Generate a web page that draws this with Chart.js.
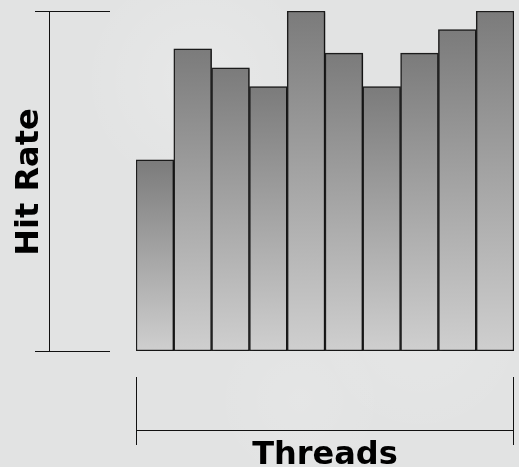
<!DOCTYPE html>
<html>
<head>
<meta charset="utf-8">
<script src="https://cdn.jsdelivr.net/npm/chart.js@4.4.0/dist/chart.umd.min.js"></script>
<style>
  html, body { margin: 0; padding: 0; background: #e2e3e3; }
  canvas { display: block; }
</style>
</head>
<body>
<canvas id="c" width="519" height="467"></canvas>
<script>
// Hit rate per thread count (relative units, no visible ticks)
const threads = ['1', '2', '3', '4', '5', '6', '7', '8', '9', '10'];
const hitRates = [56.2, 88.9, 83.3, 77.8, 100, 87.6, 77.8, 87.6, 94.5, 100];
const xTitle = 'Threads';
const yTitle = 'Hit Rate';

// background, brackets and axis titles
const decorPlugin = {
    id: 'decor',
    beforeDraw: function (chart) {
        const ctx = chart.ctx;
        ctx.save();
        ctx.fillStyle = '#e2e3e3';
        ctx.fillRect(0, 0, chart.width, chart.height);
        // faint soft blobs like the textured backdrop
        const blobs = [[200, 80, 120, 'rgba(255,255,255,0.18)'],
                       [420, 330, 110, 'rgba(255,255,255,0.12)'],
                       [300, 400, 90, 'rgba(255,255,255,0.10)']];
        blobs.forEach(function (b) {
            const g = ctx.createRadialGradient(b[0], b[1], 0, b[0], b[1], b[2]);
            g.addColorStop(0, b[3]);
            g.addColorStop(1, 'rgba(255,255,255,0)');
            ctx.fillStyle = g;
            ctx.fillRect(b[0] - b[2], b[1] - b[2], b[2] * 2, b[2] * 2);
        });
        ctx.restore();
    },
    beforeDatasetsDraw: function (chart) {
        const ctx = chart.ctx;
        ctx.save();
        ctx.shadowColor = 'rgba(0,0,0,0.35)';
        ctx.shadowOffsetX = 2;
        ctx.shadowOffsetY = 1;
        ctx.shadowBlur = 2;
    },
    afterDatasetsDraw: function (chart) {
        chart.ctx.restore();
    },
    afterDraw: function (chart) {
        const ctx = chart.ctx;
        const a = chart.chartArea;
        ctx.save();
        ctx.strokeStyle = '#111';
        ctx.lineWidth = 1;
        // y bracket
        const yx = 49.5;
        ctx.beginPath();
        ctx.moveTo(yx, a.top + 0.5); ctx.lineTo(yx, a.bottom + 0.5);
        ctx.moveTo(35, a.top + 0.5); ctx.lineTo(110, a.top + 0.5);
        ctx.moveTo(35, a.bottom + 0.5); ctx.lineTo(110, a.bottom + 0.5);
        ctx.stroke();
        // x bracket
        const xy = 430.5;
        ctx.beginPath();
        ctx.moveTo(a.left, xy); ctx.lineTo(a.right, xy);
        ctx.moveTo(a.left + 0.5, 377); ctx.lineTo(a.left + 0.5, 445);
        ctx.moveTo(a.right - 0.5, 377); ctx.lineTo(a.right - 0.5, 445);
        ctx.stroke();
        // titles
        ctx.fillStyle = '#000';
        ctx.font = 'bold 32px "DejaVu Sans"';
        ctx.textAlign = 'center';
        ctx.textBaseline = 'alphabetic';
        ctx.fillText(xTitle, (a.left + a.right) / 2, 464);
        ctx.translate(38, (a.top + a.bottom) / 2 + 1);
        ctx.rotate(-Math.PI / 2);
        ctx.fillText(yTitle, 0, 0);
        ctx.restore();
    }
};

function barGradient(context) {
    const chart = context.chart;
    const a = chart.chartArea;
    if (!a) return '#999';
    const v = context.raw;
    const top = chart.scales.y.getPixelForValue(v);
    const g = chart.ctx.createLinearGradient(0, top, 0, a.bottom);
    g.addColorStop(0, '#7b7b7b');
    g.addColorStop(1, '#cfcfcf');
    return g;
}

new Chart(document.getElementById('c').getContext('2d'), {
    type: 'bar',
    data: {
        labels: threads,
        datasets: [{
            data: hitRates,
            backgroundColor: barGradient,
            borderColor: '#1c1c1c',
            borderWidth: 1.5,
            borderSkipped: false,
            barPercentage: 1,
            categoryPercentage: 1
        }]
    },
    options: {
        responsive: false,
        animation: false,
        layout: { padding: { left: 136, right: 5, top: 11, bottom: 116 } },
        scales: {
            x: { display: false },
            y: { display: false, min: 0, max: 100 }
        },
        plugins: { legend: { display: false }, tooltip: { enabled: false } }
    },
    plugins: [decorPlugin]
});
</script>
</body>
</html>
